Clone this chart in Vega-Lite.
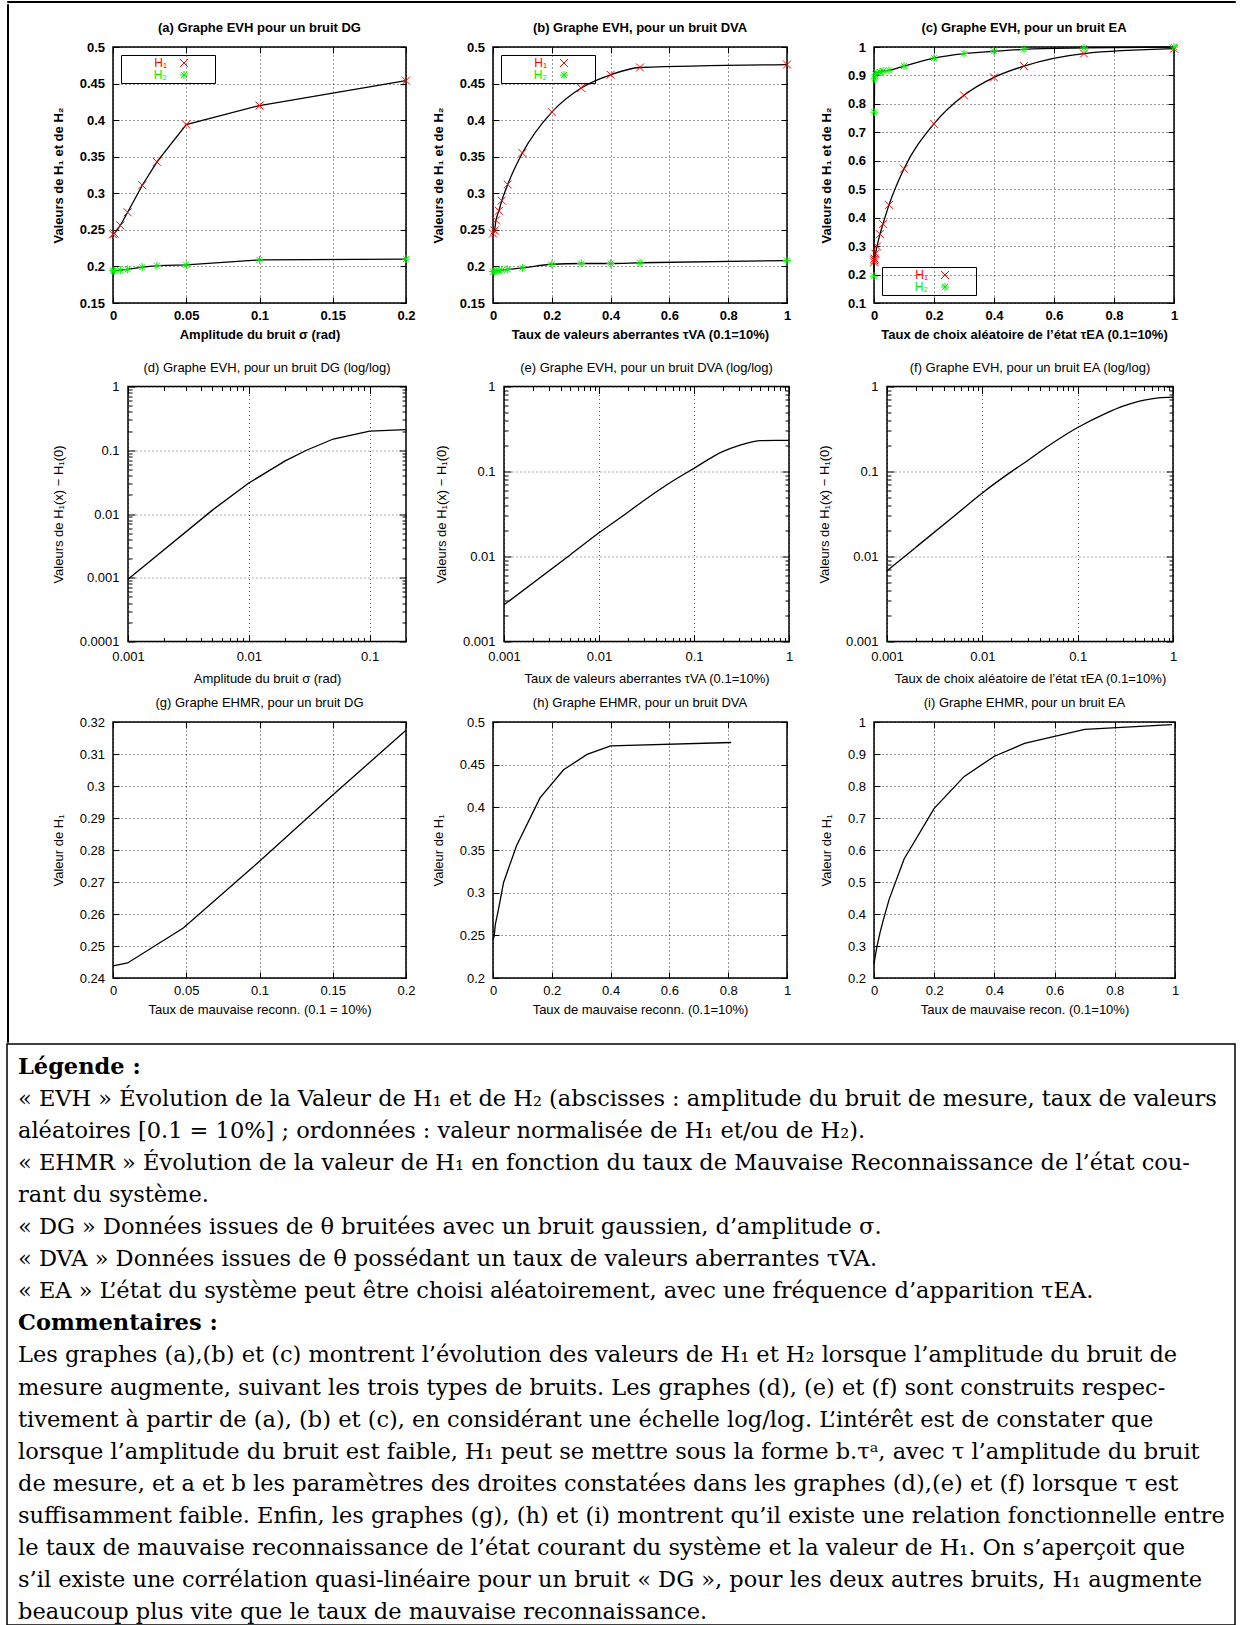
{
"$schema": "https://vega.github.io/schema/vega-lite/v6.json",
"background": "#ffffff",
"padding": {"left": 6, "top": 0, "right": 0, "bottom": 0},
"spacing": 0,
"config": {
  "font": "Liberation Sans",
  "view": {"stroke": "#000000", "strokeWidth": 1.5},
  "axis": {"domain": false, "tickColor": "#000000", "tickSize": -6, "tickWidth": 1, "grid": true, "gridColor": "#000000", "gridDash": [1, 3], "gridOpacity": 0.8, "gridWidth": 1, "labelColor": "#000000", "labelFont": "Liberation Sans", "labelFontSize": 13, "titleColor": "#000000", "titleFont": "Liberation Sans", "titleFontSize": 13, "titleFontWeight": "normal", "labelFlush": false, "labelPadding": 8},
  "axisX": {"titlePadding": 6},
  "axisY": {"titlePadding": 14},
  "axisBottom": {"labelPadding": 12.5},
  "axisLeft": {"labelPadding": 14.5},
  "title": {"font": "Liberation Sans", "fontSize": 13, "fontWeight": "normal", "color": "#000000", "offset": 6, "frame": "group", "anchor": "middle"},
  "legend": {"labelFont": "Liberation Sans", "labelFontSize": 12}
},
"datasets": {
  "evh_dg": [
    {"x": 0, "valeur": 0.244, "serie": "H₁"}, {"x": 0.001, "valeur": 0.245, "serie": "H₁"}, {"x": 0.005, "valeur": 0.256, "serie": "H₁"}, {"x": 0.01, "valeur": 0.274, "serie": "H₁"}, {"x": 0.02, "valeur": 0.311, "serie": "H₁"}, {"x": 0.03, "valeur": 0.343, "serie": "H₁"}, {"x": 0.05, "valeur": 0.394, "serie": "H₁"}, {"x": 0.1, "valeur": 0.42, "serie": "H₁"}, {"x": 0.2, "valeur": 0.454, "serie": "H₁"},
    {"x": 0, "valeur": 0.194, "serie": "H₂"}, {"x": 0.001, "valeur": 0.194, "serie": "H₂"}, {"x": 0.005, "valeur": 0.195, "serie": "H₂"}, {"x": 0.01, "valeur": 0.196, "serie": "H₂"}, {"x": 0.02, "valeur": 0.199, "serie": "H₂"}, {"x": 0.03, "valeur": 0.201, "serie": "H₂"}, {"x": 0.05, "valeur": 0.202, "serie": "H₂"}, {"x": 0.1, "valeur": 0.209, "serie": "H₂"}, {"x": 0.2, "valeur": 0.21, "serie": "H₂"}
  ],
  "evh_dva": [
    {"x": 0, "valeur": 0.245, "serie": "H₁"}, {"x": 0.005, "valeur": 0.249, "serie": "H₁"}, {"x": 0.01, "valeur": 0.263, "serie": "H₁"}, {"x": 0.02, "valeur": 0.276, "serie": "H₁"}, {"x": 0.03, "valeur": 0.29, "serie": "H₁"}, {"x": 0.05, "valeur": 0.312, "serie": "H₁"}, {"x": 0.1, "valeur": 0.355, "serie": "H₁"}, {"x": 0.2, "valeur": 0.411, "serie": "H₁"}, {"x": 0.3, "valeur": 0.444, "serie": "H₁"}, {"x": 0.4, "valeur": 0.462, "serie": "H₁"}, {"x": 0.5, "valeur": 0.472, "serie": "H₁"}, {"x": 1, "valeur": 0.476, "serie": "H₁"},
    {"x": 0, "valeur": 0.193, "serie": "H₂"}, {"x": 0.005, "valeur": 0.193, "serie": "H₂"}, {"x": 0.01, "valeur": 0.194, "serie": "H₂"}, {"x": 0.02, "valeur": 0.194, "serie": "H₂"}, {"x": 0.03, "valeur": 0.195, "serie": "H₂"}, {"x": 0.05, "valeur": 0.196, "serie": "H₂"}, {"x": 0.1, "valeur": 0.198, "serie": "H₂"}, {"x": 0.2, "valeur": 0.203, "serie": "H₂"}, {"x": 0.3, "valeur": 0.204, "serie": "H₂"}, {"x": 0.4, "valeur": 0.204, "serie": "H₂"}, {"x": 0.5, "valeur": 0.205, "serie": "H₂"}, {"x": 1, "valeur": 0.208, "serie": "H₂"}
  ],
  "evh_ea": [
    {"x": 0, "valeur": 0.243, "serie": "H₁"}, {"x": 0.001, "valeur": 0.25, "serie": "H₁"}, {"x": 0.002, "valeur": 0.256, "serie": "H₁"}, {"x": 0.005, "valeur": 0.273, "serie": "H₁"}, {"x": 0.01, "valeur": 0.299, "serie": "H₁"}, {"x": 0.02, "valeur": 0.342, "serie": "H₁"}, {"x": 0.03, "valeur": 0.378, "serie": "H₁"}, {"x": 0.05, "valeur": 0.445, "serie": "H₁"}, {"x": 0.1, "valeur": 0.572, "serie": "H₁"}, {"x": 0.2, "valeur": 0.73, "serie": "H₁"}, {"x": 0.3, "valeur": 0.83, "serie": "H₁"}, {"x": 0.4, "valeur": 0.893, "serie": "H₁"}, {"x": 0.5, "valeur": 0.933, "serie": "H₁"}, {"x": 0.7, "valeur": 0.977, "serie": "H₁"}, {"x": 1, "valeur": 0.994, "serie": "H₁"},
    {"x": 0, "valeur": 0.194, "serie": "H₂"}, {"x": 0.001, "valeur": 0.771, "serie": "H₂"}, {"x": 0.002, "valeur": 0.888, "serie": "H₂"}, {"x": 0.005, "valeur": 0.903, "serie": "H₂"}, {"x": 0.01, "valeur": 0.909, "serie": "H₂"}, {"x": 0.02, "valeur": 0.912, "serie": "H₂"}, {"x": 0.03, "valeur": 0.916, "serie": "H₂"}, {"x": 0.05, "valeur": 0.918, "serie": "H₂"}, {"x": 0.1, "valeur": 0.933, "serie": "H₂"}, {"x": 0.2, "valeur": 0.961, "serie": "H₂"}, {"x": 0.3, "valeur": 0.977, "serie": "H₂"}, {"x": 0.4, "valeur": 0.985, "serie": "H₂"}, {"x": 0.5, "valeur": 0.992, "serie": "H₂"}, {"x": 0.7, "valeur": 0.997, "serie": "H₂"}, {"x": 1, "valeur": 1.0, "serie": "H₂"}
  ],
  "log_dg": [
    {"x": 0.001, "diff": 0.00095}, {"x": 0.005, "diff": 0.0115}, {"x": 0.01, "diff": 0.0306}, {"x": 0.02, "diff": 0.068}, {"x": 0.03, "diff": 0.1}, {"x": 0.05, "diff": 0.15}, {"x": 0.1, "diff": 0.2}, {"x": 0.2, "diff": 0.211}
  ],
  "log_dva": [
    {"x": 0.001, "diff": 0.0027}, {"x": 0.005, "diff": 0.0105}, {"x": 0.01, "diff": 0.019}, {"x": 0.02, "diff": 0.033}, {"x": 0.03, "diff": 0.046}, {"x": 0.05, "diff": 0.068}, {"x": 0.1, "diff": 0.109}, {"x": 0.2, "diff": 0.171}, {"x": 0.3, "diff": 0.203}, {"x": 0.4, "diff": 0.221}, {"x": 0.5, "diff": 0.231}, {"x": 1, "diff": 0.232}
  ],
  "log_ea": [
    {"x": 0.001, "diff": 0.0068}, {"x": 0.002, "diff": 0.0128}, {"x": 0.005, "diff": 0.0296}, {"x": 0.01, "diff": 0.056}, {"x": 0.02, "diff": 0.099}, {"x": 0.03, "diff": 0.135}, {"x": 0.05, "diff": 0.202}, {"x": 0.1, "diff": 0.329}, {"x": 0.2, "diff": 0.487}, {"x": 0.3, "diff": 0.587}, {"x": 0.4, "diff": 0.65}, {"x": 0.5, "diff": 0.69}, {"x": 0.7, "diff": 0.734}, {"x": 1, "diff": 0.751}
  ],
  "ehmr_dg": [
    {"taux": 0, "H1": 0.2438}, {"taux": 0.01, "H1": 0.2447}, {"taux": 0.048, "H1": 0.2556}, {"taux": 0.1, "H1": 0.2765}, {"taux": 0.15, "H1": 0.2972}, {"taux": 0.2, "H1": 0.3174}
  ],
  "ehmr_dva": [
    {"taux": 0, "H1": 0.245}, {"taux": 0.004, "H1": 0.249}, {"taux": 0.008, "H1": 0.263}, {"taux": 0.016, "H1": 0.276}, {"taux": 0.024, "H1": 0.29}, {"taux": 0.036, "H1": 0.312}, {"taux": 0.08, "H1": 0.355}, {"taux": 0.16, "H1": 0.411}, {"taux": 0.24, "H1": 0.444}, {"taux": 0.32, "H1": 0.462}, {"taux": 0.4, "H1": 0.472}, {"taux": 0.81, "H1": 0.476}
  ],
  "ehmr_ea": [
    {"taux": 0, "H1": 0.243}, {"taux": 0.001, "H1": 0.25}, {"taux": 0.002, "H1": 0.256}, {"taux": 0.005, "H1": 0.273}, {"taux": 0.01, "H1": 0.299}, {"taux": 0.02, "H1": 0.342}, {"taux": 0.03, "H1": 0.378}, {"taux": 0.05, "H1": 0.445}, {"taux": 0.1, "H1": 0.572}, {"taux": 0.2, "H1": 0.73}, {"taux": 0.3, "H1": 0.83}, {"taux": 0.4, "H1": 0.893}, {"taux": 0.5, "H1": 0.933}, {"taux": 0.7, "H1": 0.977}, {"taux": 0.99, "H1": 0.992}
  ],
  "texte": [
    {"ligne": 1, "type": "titre", "texte": "Légende :"},
    {"ligne": 2, "type": "corps", "texte": "« EVH » Évolution de la Valeur de H₁ et de H₂ (abscisses : amplitude du bruit de mesure, taux de valeurs"},
    {"ligne": 3, "type": "corps", "texte": "aléatoires [0.1 = 10%] ; ordonnées : valeur normalisée de H₁ et/ou de H₂)."},
    {"ligne": 4, "type": "corps", "texte": "« EHMR » Évolution de la valeur de H₁ en fonction du taux de Mauvaise Reconnaissance de l’état cou-"},
    {"ligne": 5, "type": "corps", "texte": "rant du système."},
    {"ligne": 6, "type": "corps", "texte": "« DG » Données issues de θ bruitées avec un bruit gaussien, d’amplitude σ."},
    {"ligne": 7, "type": "corps", "texte": "« DVA » Données issues de θ possédant un taux de valeurs aberrantes τVA."},
    {"ligne": 8, "type": "corps", "texte": "« EA » L’état du système peut être choisi aléatoirement, avec une fréquence d’apparition τEA."},
    {"ligne": 9, "type": "titre", "texte": "Commentaires :"},
    {"ligne": 10, "type": "corps", "texte": "Les graphes (a),(b) et (c) montrent l’évolution des valeurs de H₁ et H₂ lorsque l’amplitude du bruit de"},
    {"ligne": 11, "type": "corps", "texte": "mesure augmente, suivant les trois types de bruits. Les graphes (d), (e) et (f) sont construits respec-"},
    {"ligne": 12, "type": "corps", "texte": "tivement à partir de (a), (b) et (c), en considérant une échelle log/log. L’intérêt est de constater que"},
    {"ligne": 13, "type": "corps", "texte": "lorsque l’amplitude du bruit est faible, H₁ peut se mettre sous la forme b.τᵃ, avec τ l’amplitude du bruit"},
    {"ligne": 14, "type": "corps", "texte": "de mesure, et a et b les paramètres des droites constatées dans les graphes (d),(e) et (f) lorsque τ est"},
    {"ligne": 15, "type": "corps", "texte": "suffisamment faible. Enfin, les graphes (g), (h) et (i) montrent qu’il existe une relation fonctionnelle entre"},
    {"ligne": 16, "type": "corps", "texte": "le taux de mauvaise reconnaissance de l’état courant du système et la valeur de H₁. On s’aperçoit que"},
    {"ligne": 17, "type": "corps", "texte": "s’il existe une corrélation quasi-linéaire pour un bruit « DG », pour les deux autres bruits, H₁ augmente"},
    {"ligne": 18, "type": "corps", "texte": "beaucoup plus vite que le taux de mauvaise reconnaissance."}
  ]
},
"vconcat": [
  {"width": 1228, "height": 1, "data": {"values": []}, "mark": "point", "view": {"stroke": "#000000", "strokeWidth": 1}},
  {
    "spacing": 42,
    "hconcat": [
      {"width": 1, "height": 1038, "data": {"values": []}, "mark": "point", "view": {"stroke": "#000000", "strokeWidth": 1}},
      {
        "spacing": 63.5,
        "hconcat": [
          {
            "spacing": 0,
            "vconcat": [
              {"width": 1, "height": 17, "data": {"values": []}, "mark": "point", "view": {"stroke": null}},
              {
                "spacing": 17.5,
                "vconcat": [
                  {
                    "bounds": "flush", "spacing": 87,
                    "resolve": {"scale": {"color": "independent", "shape": "independent"}},
                    "hconcat": [
                      {
                        "width": 293, "height": 256,
                        "title": {"text": "(a) Graphe EVH pour un bruit DG", "fontWeight": "bold"},
                        "data": {"name": "evh_dg"},
                        "layer": [
                          {"mark": {"type": "line", "color": "#000000", "strokeWidth": 1.3},
                           "encoding": {
                             "x": {"field": "x", "type": "quantitative", "scale": {"domain": [0, 0.2], "nice": false, "zero": false},
                                   "axis": {"title": "Amplitude du bruit σ (rad)", "values": [0, 0.05, 0.1, 0.15, 0.2], "format": "~g", "labelFontWeight": "bold", "titleFontWeight": "bold"}},
                             "y": {"field": "valeur", "type": "quantitative", "scale": {"domain": [0.15, 0.5], "nice": false, "zero": false},
                                   "axis": {"title": "Valeurs de H₁ et de H₂", "values": [0.15, 0.2, 0.25, 0.3, 0.35, 0.4, 0.45, 0.5], "format": "~g", "labelFontWeight": "bold", "titleFontWeight": "bold"}},
                             "detail": {"field": "serie", "type": "nominal"}}},
                          {"mark": {"type": "point", "filled": false, "strokeWidth": 1, "size": 64, "opacity": 1},
                           "encoding": {
                             "x": {"field": "x", "type": "quantitative", "axis": {"orient": "top", "values": [0, 0.05, 0.1, 0.15, 0.2], "labels": false, "grid": false, "title": null}},
                             "y": {"field": "valeur", "type": "quantitative", "axis": {"orient": "right", "values": [0.15, 0.2, 0.25, 0.3, 0.35, 0.4, 0.45, 0.5], "labels": false, "grid": false, "title": null}},
                             "color": {"field": "serie", "type": "nominal", "scale": {"domain": ["H₁", "H₂"], "range": ["#ff0000", "#00ee00"]},
                                       "legend": {"title": "\u00a0", "titleOrient": "right", "titlePadding": 23, "orient": "top-left", "offset": 8, "strokeColor": "#000000", "padding": 2, "rowPadding": 0, "symbolOffset": 55, "labelOffset": -23, "labelAlign": "right", "symbolSize": 64, "symbolStrokeWidth": 1, "labelColor": {"expr": "datum.value == 'H₁' ? '#ff0000' : '#00ee00'"}}},
                             "shape": {"field": "serie", "type": "nominal", "scale": {"domain": ["H₁", "H₂"], "range": ["M-1,-1L1,1M-1,1L1,-1", "M-1,0L1,0M0,-1L0,1M-0.75,-0.75L0.75,0.75M-0.75,0.75L0.75,-0.75"]},
                                       "legend": {"title": "\u00a0", "titleOrient": "right", "titlePadding": 23, "orient": "top-left", "offset": 8, "strokeColor": "#000000", "padding": 2, "rowPadding": 0, "symbolOffset": 55, "labelOffset": -23, "labelAlign": "right", "symbolSize": 64, "symbolStrokeWidth": 1, "labelColor": {"expr": "datum.value == 'H₁' ? '#ff0000' : '#00ee00'"}}}}}
                        ],
                        "resolve": {"axis": {"x": "independent", "y": "independent"}}
                      },
                      {
                        "width": 294, "height": 256,
                        "title": {"text": "(b) Graphe EVH, pour un bruit DVA", "fontWeight": "bold"},
                        "data": {"name": "evh_dva"},
                        "layer": [
                          {"mark": {"type": "line", "color": "#000000", "strokeWidth": 1.3, "interpolate": "monotone"},
                           "encoding": {
                             "x": {"field": "x", "type": "quantitative", "scale": {"domain": [0, 1], "nice": false, "zero": false},
                                   "axis": {"title": "Taux de valeurs aberrantes τVA (0.1=10%)", "values": [0, 0.2, 0.4, 0.6, 0.8, 1], "format": "~g", "labelFontWeight": "bold", "titleFontWeight": "bold"}},
                             "y": {"field": "valeur", "type": "quantitative", "scale": {"domain": [0.15, 0.5], "nice": false, "zero": false},
                                   "axis": {"title": "Valeurs de H₁ et de H₂", "values": [0.15, 0.2, 0.25, 0.3, 0.35, 0.4, 0.45, 0.5], "format": "~g", "labelFontWeight": "bold", "titleFontWeight": "bold"}},
                             "detail": {"field": "serie", "type": "nominal"}}},
                          {"mark": {"type": "point", "filled": false, "strokeWidth": 1, "size": 64, "opacity": 1},
                           "encoding": {
                             "x": {"field": "x", "type": "quantitative", "axis": {"orient": "top", "values": [0, 0.2, 0.4, 0.6, 0.8, 1], "labels": false, "grid": false, "title": null}},
                             "y": {"field": "valeur", "type": "quantitative", "axis": {"orient": "right", "values": [0.15, 0.2, 0.25, 0.3, 0.35, 0.4, 0.45, 0.5], "labels": false, "grid": false, "title": null}},
                             "color": {"field": "serie", "type": "nominal", "scale": {"domain": ["H₁", "H₂"], "range": ["#ff0000", "#00ee00"]},
                                       "legend": {"title": "\u00a0", "titleOrient": "right", "titlePadding": 23, "orient": "top-left", "offset": 8, "strokeColor": "#000000", "padding": 2, "rowPadding": 0, "symbolOffset": 55, "labelOffset": -23, "labelAlign": "right", "symbolSize": 64, "symbolStrokeWidth": 1, "labelColor": {"expr": "datum.value == 'H₁' ? '#ff0000' : '#00ee00'"}}},
                             "shape": {"field": "serie", "type": "nominal", "scale": {"domain": ["H₁", "H₂"], "range": ["M-1,-1L1,1M-1,1L1,-1", "M-1,0L1,0M0,-1L0,1M-0.75,-0.75L0.75,0.75M-0.75,0.75L0.75,-0.75"]},
                                       "legend": {"title": "\u00a0", "titleOrient": "right", "titlePadding": 23, "orient": "top-left", "offset": 8, "strokeColor": "#000000", "padding": 2, "rowPadding": 0, "symbolOffset": 55, "labelOffset": -23, "labelAlign": "right", "symbolSize": 64, "symbolStrokeWidth": 1, "labelColor": {"expr": "datum.value == 'H₁' ? '#ff0000' : '#00ee00'"}}}}}
                        ],
                        "resolve": {"axis": {"x": "independent", "y": "independent"}}
                      },
                      {
                        "width": 300, "height": 256,
                        "title": {"text": "(c) Graphe EVH, pour un bruit EA", "fontWeight": "bold"},
                        "data": {"name": "evh_ea"},
                        "layer": [
                          {"mark": {"type": "line", "color": "#000000", "strokeWidth": 1.3, "interpolate": "monotone"},
                           "encoding": {
                             "x": {"field": "x", "type": "quantitative", "scale": {"domain": [0, 1], "nice": false, "zero": false},
                                   "axis": {"title": "Taux de choix aléatoire de l’état τEA (0.1=10%)", "values": [0, 0.2, 0.4, 0.6, 0.8, 1], "format": "~g", "labelFontWeight": "bold", "titleFontWeight": "bold"}},
                             "y": {"field": "valeur", "type": "quantitative", "scale": {"domain": [0.1, 1], "nice": false, "zero": false},
                                   "axis": {"title": "Valeurs de H₁ et de H₂", "values": [0.1, 0.2, 0.3, 0.4, 0.5, 0.6, 0.7, 0.8, 0.9, 1], "format": "~g", "labelFontWeight": "bold", "titleFontWeight": "bold"}},
                             "detail": {"field": "serie", "type": "nominal"}}},
                          {"mark": {"type": "point", "filled": false, "strokeWidth": 1, "size": 64, "opacity": 1},
                           "encoding": {
                             "x": {"field": "x", "type": "quantitative", "axis": {"orient": "top", "values": [0, 0.2, 0.4, 0.6, 0.8, 1], "labels": false, "grid": false, "title": null}},
                             "y": {"field": "valeur", "type": "quantitative", "axis": {"orient": "right", "values": [0.1, 0.2, 0.3, 0.4, 0.5, 0.6, 0.7, 0.8, 0.9, 1], "labels": false, "grid": false, "title": null}},
                             "color": {"field": "serie", "type": "nominal", "scale": {"domain": ["H₁", "H₂"], "range": ["#ff0000", "#00ee00"]},
                                       "legend": {"title": "\u00a0", "titleOrient": "right", "titlePadding": 23, "orient": "bottom-left", "offset": 8, "strokeColor": "#000000", "padding": 2, "rowPadding": 0, "symbolOffset": 55, "labelOffset": -23, "labelAlign": "right", "symbolSize": 64, "symbolStrokeWidth": 1, "labelColor": {"expr": "datum.value == 'H₁' ? '#ff0000' : '#00ee00'"}}},
                             "shape": {"field": "serie", "type": "nominal", "scale": {"domain": ["H₁", "H₂"], "range": ["M-1,-1L1,1M-1,1L1,-1", "M-1,0L1,0M0,-1L0,1M-0.75,-0.75L0.75,0.75M-0.75,0.75L0.75,-0.75"]},
                                       "legend": {"title": "\u00a0", "titleOrient": "right", "titlePadding": 23, "orient": "bottom-left", "offset": 8, "strokeColor": "#000000", "padding": 2, "rowPadding": 0, "symbolOffset": 55, "labelOffset": -23, "labelAlign": "right", "symbolSize": 64, "symbolStrokeWidth": 1, "labelColor": {"expr": "datum.value == 'H₁' ? '#ff0000' : '#00ee00'"}}}}}
                        ],
                        "resolve": {"axis": {"x": "independent", "y": "independent"}}
                      }
                    ]
                  },
                  {
                    "spacing": 9.5,
                    "vconcat": [
                      {
                        "bounds": "flush", "spacing": 14,
                        "hconcat": [
                          {"width": 1, "height": 1, "data": {"values": []}, "mark": "point", "view": {"stroke": null}},
                          {
                            "bounds": "flush", "spacing": 98,
                            "hconcat": [
                              {
                                "width": 278, "height": 255,
                                "title": "(d) Graphe EVH, pour un bruit DG (log/log)",
                                "data": {"name": "log_dg"},
                                "layer": [
                                  {"mark": {"type": "line", "color": "#000000", "strokeWidth": 1.3},
                                   "encoding": {
                                     "x": {"field": "x", "type": "quantitative", "scale": {"type": "log", "domain": [0.001, 0.2], "nice": false},
                                           "axis": {"title": "Amplitude du bruit σ (rad)", "values": [0.001, 0.002, 0.003, 0.004, 0.005, 0.006, 0.007, 0.008, 0.009, 0.01, 0.02, 0.03, 0.04, 0.05, 0.06, 0.07, 0.08, 0.09, 0.1, 0.2], "format": "~g", "labelOverlap": false, "labelPadding": 15.5,
                                                    "labelExpr": "abs(log(datum.value)/LN10 - round(log(datum.value)/LN10)) < 0.000001 ? datum.label : ''",
                                                    "tickSize": {"condition": {"test": "abs(log(datum.value)/LN10 - round(log(datum.value)/LN10)) < 0.000001", "value": -7}, "value": -4},
                                                    "gridOpacity": {"condition": {"test": "abs(log(datum.value)/LN10 - round(log(datum.value)/LN10)) < 0.000001", "value": 0.8}, "value": 0}}},
                                     "y": {"field": "diff", "type": "quantitative", "scale": {"type": "log", "domain": [0.0001, 1], "nice": false},
                                           "axis": {"title": "Valeurs de H₁(x) − H₁(0)", "values": [0.0001, 0.0002, 0.0003, 0.0004, 0.0005, 0.0006, 0.0007, 0.0008, 0.0009, 0.001, 0.002, 0.003, 0.004, 0.005, 0.006, 0.007, 0.008, 0.009, 0.01, 0.02, 0.03, 0.04, 0.05, 0.06, 0.07, 0.08, 0.09, 0.1, 0.2, 0.3, 0.4, 0.5, 0.6, 0.7, 0.8, 0.9, 1], "format": "~g", "labelOverlap": false, "labelPadding": 16,
                                                    "labelExpr": "abs(log(datum.value)/LN10 - round(log(datum.value)/LN10)) < 0.000001 ? datum.label : ''",
                                                    "tickSize": {"condition": {"test": "abs(log(datum.value)/LN10 - round(log(datum.value)/LN10)) < 0.000001", "value": -7}, "value": -4},
                                                    "gridOpacity": {"condition": {"test": "abs(log(datum.value)/LN10 - round(log(datum.value)/LN10)) < 0.000001", "value": 0.8}, "value": 0}}}}},
                                  {"mark": {"type": "line", "opacity": 0},
                                   "encoding": {
                                     "x": {"field": "x", "type": "quantitative", "axis": {"orient": "top", "values": [0.001, 0.002, 0.003, 0.004, 0.005, 0.006, 0.007, 0.008, 0.009, 0.01, 0.02, 0.03, 0.04, 0.05, 0.06, 0.07, 0.08, 0.09, 0.1, 0.2], "labels": false, "grid": false, "title": null,
                                                    "tickSize": {"condition": {"test": "abs(log(datum.value)/LN10 - round(log(datum.value)/LN10)) < 0.000001", "value": -7}, "value": -4}}},
                                     "y": {"field": "diff", "type": "quantitative", "axis": {"orient": "right", "values": [0.0001, 0.0002, 0.0003, 0.0004, 0.0005, 0.0006, 0.0007, 0.0008, 0.0009, 0.001, 0.002, 0.003, 0.004, 0.005, 0.006, 0.007, 0.008, 0.009, 0.01, 0.02, 0.03, 0.04, 0.05, 0.06, 0.07, 0.08, 0.09, 0.1, 0.2, 0.3, 0.4, 0.5, 0.6, 0.7, 0.8, 0.9, 1], "labels": false, "grid": false, "title": null,
                                                    "tickSize": {"condition": {"test": "abs(log(datum.value)/LN10 - round(log(datum.value)/LN10)) < 0.000001", "value": -7}, "value": -4}}}}}
                                ],
                                "resolve": {"axis": {"x": "independent", "y": "independent"}}
                              },
                              {
                                "width": 285, "height": 255,
                                "title": "(e) Graphe EVH, pour un bruit DVA (log/log)",
                                "data": {"name": "log_dva"},
                                "layer": [
                                  {"mark": {"type": "line", "color": "#000000", "strokeWidth": 1.3, "interpolate": "monotone"},
                                   "encoding": {
                                     "x": {"field": "x", "type": "quantitative", "scale": {"type": "log", "domain": [0.001, 1], "nice": false},
                                           "axis": {"title": "Taux de valeurs aberrantes τVA (0.1=10%)", "values": [0.001, 0.002, 0.003, 0.004, 0.005, 0.006, 0.007, 0.008, 0.009, 0.01, 0.02, 0.03, 0.04, 0.05, 0.06, 0.07, 0.08, 0.09, 0.1, 0.2, 0.3, 0.4, 0.5, 0.6, 0.7, 0.8, 0.9, 1], "format": "~g", "labelOverlap": false, "labelPadding": 15.5,
                                                    "labelExpr": "abs(log(datum.value)/LN10 - round(log(datum.value)/LN10)) < 0.000001 ? datum.label : ''",
                                                    "tickSize": {"condition": {"test": "abs(log(datum.value)/LN10 - round(log(datum.value)/LN10)) < 0.000001", "value": -7}, "value": -4},
                                                    "gridOpacity": {"condition": {"test": "abs(log(datum.value)/LN10 - round(log(datum.value)/LN10)) < 0.000001", "value": 0.8}, "value": 0}}},
                                     "y": {"field": "diff", "type": "quantitative", "scale": {"type": "log", "domain": [0.001, 1], "nice": false},
                                           "axis": {"title": "Valeurs de H₁(x) − H₁(0)", "values": [0.001, 0.002, 0.003, 0.004, 0.005, 0.006, 0.007, 0.008, 0.009, 0.01, 0.02, 0.03, 0.04, 0.05, 0.06, 0.07, 0.08, 0.09, 0.1, 0.2, 0.3, 0.4, 0.5, 0.6, 0.7, 0.8, 0.9, 1], "format": "~g", "labelOverlap": false, "labelPadding": 16,
                                                    "labelExpr": "abs(log(datum.value)/LN10 - round(log(datum.value)/LN10)) < 0.000001 ? datum.label : ''",
                                                    "tickSize": {"condition": {"test": "abs(log(datum.value)/LN10 - round(log(datum.value)/LN10)) < 0.000001", "value": -7}, "value": -4},
                                                    "gridOpacity": {"condition": {"test": "abs(log(datum.value)/LN10 - round(log(datum.value)/LN10)) < 0.000001", "value": 0.8}, "value": 0}}}}},
                                  {"mark": {"type": "line", "opacity": 0},
                                   "encoding": {
                                     "x": {"field": "x", "type": "quantitative", "axis": {"orient": "top", "values": [0.001, 0.002, 0.003, 0.004, 0.005, 0.006, 0.007, 0.008, 0.009, 0.01, 0.02, 0.03, 0.04, 0.05, 0.06, 0.07, 0.08, 0.09, 0.1, 0.2, 0.3, 0.4, 0.5, 0.6, 0.7, 0.8, 0.9, 1], "labels": false, "grid": false, "title": null,
                                                    "tickSize": {"condition": {"test": "abs(log(datum.value)/LN10 - round(log(datum.value)/LN10)) < 0.000001", "value": -7}, "value": -4}}},
                                     "y": {"field": "diff", "type": "quantitative", "axis": {"orient": "right", "values": [0.001, 0.002, 0.003, 0.004, 0.005, 0.006, 0.007, 0.008, 0.009, 0.01, 0.02, 0.03, 0.04, 0.05, 0.06, 0.07, 0.08, 0.09, 0.1, 0.2, 0.3, 0.4, 0.5, 0.6, 0.7, 0.8, 0.9, 1], "labels": false, "grid": false, "title": null,
                                                    "tickSize": {"condition": {"test": "abs(log(datum.value)/LN10 - round(log(datum.value)/LN10)) < 0.000001", "value": -7}, "value": -4}}}}}
                                ],
                                "resolve": {"axis": {"x": "independent", "y": "independent"}}
                              },
                              {
                                "width": 286, "height": 255,
                                "title": "(f) Graphe EVH, pour un bruit EA (log/log)",
                                "data": {"name": "log_ea"},
                                "layer": [
                                  {"mark": {"type": "line", "color": "#000000", "strokeWidth": 1.3, "interpolate": "monotone"},
                                   "encoding": {
                                     "x": {"field": "x", "type": "quantitative", "scale": {"type": "log", "domain": [0.001, 1], "nice": false},
                                           "axis": {"title": "Taux de choix aléatoire de l’état τEA (0.1=10%)", "values": [0.001, 0.002, 0.003, 0.004, 0.005, 0.006, 0.007, 0.008, 0.009, 0.01, 0.02, 0.03, 0.04, 0.05, 0.06, 0.07, 0.08, 0.09, 0.1, 0.2, 0.3, 0.4, 0.5, 0.6, 0.7, 0.8, 0.9, 1], "format": "~g", "labelOverlap": false, "labelPadding": 15.5,
                                                    "labelExpr": "abs(log(datum.value)/LN10 - round(log(datum.value)/LN10)) < 0.000001 ? datum.label : ''",
                                                    "tickSize": {"condition": {"test": "abs(log(datum.value)/LN10 - round(log(datum.value)/LN10)) < 0.000001", "value": -7}, "value": -4},
                                                    "gridOpacity": {"condition": {"test": "abs(log(datum.value)/LN10 - round(log(datum.value)/LN10)) < 0.000001", "value": 0.8}, "value": 0}}},
                                     "y": {"field": "diff", "type": "quantitative", "scale": {"type": "log", "domain": [0.001, 1], "nice": false},
                                           "axis": {"title": "Valeurs de H₁(x) − H₁(0)", "values": [0.001, 0.002, 0.003, 0.004, 0.005, 0.006, 0.007, 0.008, 0.009, 0.01, 0.02, 0.03, 0.04, 0.05, 0.06, 0.07, 0.08, 0.09, 0.1, 0.2, 0.3, 0.4, 0.5, 0.6, 0.7, 0.8, 0.9, 1], "format": "~g", "labelOverlap": false, "labelPadding": 16,
                                                    "labelExpr": "abs(log(datum.value)/LN10 - round(log(datum.value)/LN10)) < 0.000001 ? datum.label : ''",
                                                    "tickSize": {"condition": {"test": "abs(log(datum.value)/LN10 - round(log(datum.value)/LN10)) < 0.000001", "value": -7}, "value": -4},
                                                    "gridOpacity": {"condition": {"test": "abs(log(datum.value)/LN10 - round(log(datum.value)/LN10)) < 0.000001", "value": 0.8}, "value": 0}}}}},
                                  {"mark": {"type": "line", "opacity": 0},
                                   "encoding": {
                                     "x": {"field": "x", "type": "quantitative", "axis": {"orient": "top", "values": [0.001, 0.002, 0.003, 0.004, 0.005, 0.006, 0.007, 0.008, 0.009, 0.01, 0.02, 0.03, 0.04, 0.05, 0.06, 0.07, 0.08, 0.09, 0.1, 0.2, 0.3, 0.4, 0.5, 0.6, 0.7, 0.8, 0.9, 1], "labels": false, "grid": false, "title": null,
                                                    "tickSize": {"condition": {"test": "abs(log(datum.value)/LN10 - round(log(datum.value)/LN10)) < 0.000001", "value": -7}, "value": -4}}},
                                     "y": {"field": "diff", "type": "quantitative", "axis": {"orient": "right", "values": [0.001, 0.002, 0.003, 0.004, 0.005, 0.006, 0.007, 0.008, 0.009, 0.01, 0.02, 0.03, 0.04, 0.05, 0.06, 0.07, 0.08, 0.09, 0.1, 0.2, 0.3, 0.4, 0.5, 0.6, 0.7, 0.8, 0.9, 1], "labels": false, "grid": false, "title": null,
                                                    "tickSize": {"condition": {"test": "abs(log(datum.value)/LN10 - round(log(datum.value)/LN10)) < 0.000001", "value": -7}, "value": -4}}}}}
                                ],
                                "resolve": {"axis": {"x": "independent", "y": "independent"}}
                              }
                            ]
                          }
                        ]
                      },
                      {
                        "bounds": "flush", "spacing": 87,
                        "hconcat": [
                          {
                            "width": 293, "height": 256,
                            "title": "(g) Graphe EHMR, pour un bruit DG",
                            "data": {"name": "ehmr_dg"},
                            "layer": [
                              {"mark": {"type": "line", "color": "#000000", "strokeWidth": 1.3},
                               "encoding": {
                                 "x": {"field": "taux", "type": "quantitative", "scale": {"domain": [0, 0.2], "nice": false, "zero": false},
                                       "axis": {"title": "Taux de mauvaise reconn. (0.1 = 10%)", "values": [0, 0.05, 0.1, 0.15, 0.2], "format": "~g"}},
                                 "y": {"field": "H1", "type": "quantitative", "scale": {"domain": [0.24, 0.32], "nice": false, "zero": false},
                                       "axis": {"title": "Valeur de H₁", "values": [0.24, 0.25, 0.26, 0.27, 0.28, 0.29, 0.3, 0.31, 0.32], "format": "~g"}}}},
                              {"mark": {"type": "line", "opacity": 0},
                               "encoding": {
                                 "x": {"field": "taux", "type": "quantitative", "axis": {"orient": "top", "values": [0, 0.05, 0.1, 0.15, 0.2], "labels": false, "grid": false, "title": null}},
                                 "y": {"field": "H1", "type": "quantitative", "axis": {"orient": "right", "values": [0.24, 0.25, 0.26, 0.27, 0.28, 0.29, 0.3, 0.31, 0.32], "labels": false, "grid": false, "title": null}}}}
                            ],
                            "resolve": {"axis": {"x": "independent", "y": "independent"}}
                          },
                          {
                            "width": 294, "height": 256,
                            "title": "(h) Graphe EHMR, pour un bruit DVA",
                            "data": {"name": "ehmr_dva"},
                            "layer": [
                              {"mark": {"type": "line", "color": "#000000", "strokeWidth": 1.3},
                               "encoding": {
                                 "x": {"field": "taux", "type": "quantitative", "scale": {"domain": [0, 1], "nice": false, "zero": false},
                                       "axis": {"title": "Taux de mauvaise reconn. (0.1=10%)", "values": [0, 0.2, 0.4, 0.6, 0.8, 1], "format": "~g"}},
                                 "y": {"field": "H1", "type": "quantitative", "scale": {"domain": [0.2, 0.5], "nice": false, "zero": false},
                                       "axis": {"title": "Valeur de H₁", "values": [0.2, 0.25, 0.3, 0.35, 0.4, 0.45, 0.5], "format": "~g"}}}},
                              {"mark": {"type": "line", "opacity": 0},
                               "encoding": {
                                 "x": {"field": "taux", "type": "quantitative", "axis": {"orient": "top", "values": [0, 0.2, 0.4, 0.6, 0.8, 1], "labels": false, "grid": false, "title": null}},
                                 "y": {"field": "H1", "type": "quantitative", "axis": {"orient": "right", "values": [0.2, 0.25, 0.3, 0.35, 0.4, 0.45, 0.5], "labels": false, "grid": false, "title": null}}}}
                            ],
                            "resolve": {"axis": {"x": "independent", "y": "independent"}}
                          },
                          {
                            "width": 301, "height": 256,
                            "title": "(i) Graphe EHMR, pour un bruit EA",
                            "data": {"name": "ehmr_ea"},
                            "layer": [
                              {"mark": {"type": "line", "color": "#000000", "strokeWidth": 1.3},
                               "encoding": {
                                 "x": {"field": "taux", "type": "quantitative", "scale": {"domain": [0, 1], "nice": false, "zero": false},
                                       "axis": {"title": "Taux de mauvaise recon. (0.1=10%)", "values": [0, 0.2, 0.4, 0.6, 0.8, 1], "format": "~g"}},
                                 "y": {"field": "H1", "type": "quantitative", "scale": {"domain": [0.2, 1], "nice": false, "zero": false},
                                       "axis": {"title": "Valeur de H₁", "values": [0.2, 0.3, 0.4, 0.5, 0.6, 0.7, 0.8, 0.9, 1], "format": "~g"}}}},
                              {"mark": {"type": "line", "opacity": 0},
                               "encoding": {
                                 "x": {"field": "taux", "type": "quantitative", "axis": {"orient": "top", "values": [0, 0.2, 0.4, 0.6, 0.8, 1], "labels": false, "grid": false, "title": null}},
                                 "y": {"field": "H1", "type": "quantitative", "axis": {"orient": "right", "values": [0.2, 0.3, 0.4, 0.5, 0.6, 0.7, 0.8, 0.9, 1], "labels": false, "grid": false, "title": null}}}}
                            ],
                            "resolve": {"axis": {"x": "independent", "y": "independent"}}
                          }
                        ]
                      }
                    ]
                  }
                ]
              }
            ]
          },
          {"width": 1, "height": 1038, "data": {"values": []}, "mark": "point", "view": {"stroke": "#000000", "strokeWidth": 1}}
        ]
      }
    ]
  },
  {
    "width": 1228, "height": 581,
    "data": {"name": "texte"},
    "layer": [
      {"transform": [{"filter": "datum.type == 'titre'"}],
       "mark": {"type": "text", "align": "left", "baseline": "middle", "font": "DejaVu Serif", "fontSize": 22.5, "fontWeight": "bold", "dx": 11, "color": "#000000"},
       "encoding": {"x": {"datum": 0, "type": "quantitative", "scale": {"domain": [0, 1]}, "axis": null},
                    "y": {"field": "ligne", "type": "quantitative", "scale": {"domain": [0.292, 18.403], "reverse": true, "nice": false, "zero": false}, "axis": null},
                    "text": {"field": "texte"}}},
      {"transform": [{"filter": "datum.type == 'corps'"}],
       "mark": {"type": "text", "align": "left", "baseline": "middle", "font": "DejaVu Serif", "fontSize": 22.5, "dx": 11, "color": "#000000"},
       "encoding": {"x": {"datum": 0, "type": "quantitative", "axis": null},
                    "y": {"field": "ligne", "type": "quantitative", "axis": null},
                    "text": {"field": "texte"}}}
    ]
  }
]
}
